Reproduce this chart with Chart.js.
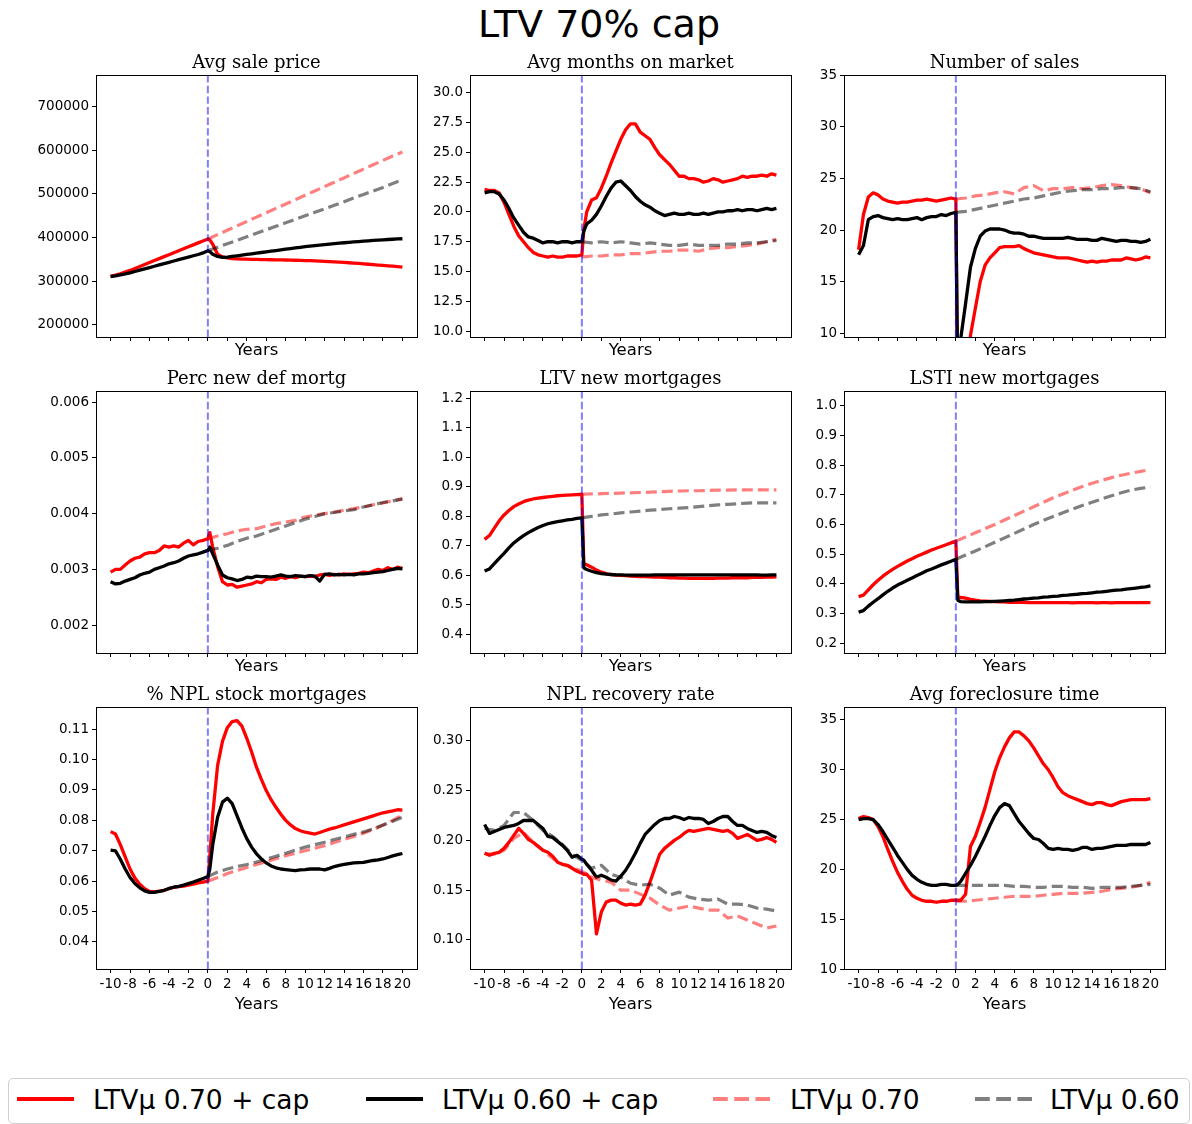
<!DOCTYPE html>
<html>
<head>
<meta charset="utf-8">
<script src="https://cdn.jsdelivr.net/npm/chart.js@4.4.1/dist/chart.umd.min.js"></script>
<style>
html,body{margin:0;padding:0;background:#fff;}
body{width:1192px;height:1124px;position:relative;overflow:hidden;font-family:'DejaVu Sans',sans-serif;}
#title{position:absolute;left:0;top:2px;width:1198px;text-align:center;font-size:38px;line-height:44px;color:#000;}
canvas{position:absolute;}
#legend{position:absolute;left:8px;top:1078px;width:1182px;height:46px;border:1px solid #d0d0d0;border-radius:5px;box-sizing:border-box;}
.lg-line{position:absolute;}
.lg-text{position:absolute;font-size:26.5px;line-height:30px;color:#000;white-space:nowrap;}
</style>
</head>
<body>
<div id="title">LTV 70% cap</div>
<div id="legend"></div>
<svg class="lg-line" style="left:17px;top:1095px" width="58" height="8"><line x1="0" y1="4" x2="57" y2="4" stroke="#ff0000" stroke-width="4"/></svg>
<span class="lg-text" style="left:93px;top:1085px">LTVμ 0.70 + cap</span>
<svg class="lg-line" style="left:366px;top:1095px" width="58" height="8"><line x1="0" y1="4" x2="57" y2="4" stroke="#000000" stroke-width="4"/></svg>
<span class="lg-text" style="left:442px;top:1085px">LTVμ 0.60 + cap</span>
<svg class="lg-line" style="left:713px;top:1095px" width="58" height="8"><line x1="0" y1="4" x2="57" y2="4" stroke="#ff0000" stroke-opacity="0.5" stroke-width="4" stroke-dasharray="14.8 6.4"/></svg>
<span class="lg-text" style="left:790px;top:1085px">LTVμ 0.70</span>
<svg class="lg-line" style="left:975px;top:1095px" width="58" height="8"><line x1="0" y1="4" x2="57" y2="4" stroke="#000000" stroke-opacity="0.5" stroke-width="4" stroke-dasharray="14.8 6.4"/></svg>
<span class="lg-text" style="left:1050px;top:1085px">LTVμ 0.60</span>

<script>
// ---------- x values ----------
const YEARS = [-10,-9.5,-9,-8.5,-8,-7.5,-7,-6.5,-6,-5.5,-5,-4.5,-4,-3.5,-3,-2.5,-2,-1.5,-1,-0.5,0,
  0.2,
  0.5,1,1.5,2,2.5,3,3.5,4,4.5,5,5.5,6,6.5,7,7.5,8,8.5,9,9.5,10,
  10.5,11,11.5,12,12.5,13,13.5,14,14.5,15,15.5,16,16.5,17,17.5,18,18.5,19,19.5,20];
const YEARS_POST = [0,1,2,3,4,5,6,7,8,9,10,11,12,13,14,15,16,17,18,19,20];
const YEARS_FULL = [-10,-9,-8,-7,-6,-5,-4,-3,-2,-1,0,1,2,3,4,5,6,7,8,9,10,11,12,13,14,15,16,17,18,19,20];
const X_TICKS = [-10,-8,-6,-4,-2,0,2,4,6,8,10,12,14,16,18,20];
const X_TICK_LABELS = ['-10','-8','-6','-4','-2','0','2','4','6','8','10','12','14','16','18','20'];
const SERIES_NAMES = ['LTVμ 0.70 + cap','LTVμ 0.60 + cap','LTVμ 0.70','LTVμ 0.60'];
const TITLES = ['Avg sale price','Avg months on market','Number of sales','Perc new def mortg','LTV new mortgages','LSTI new mortgages','% NPL stock mortgages','NPL recovery rate','Avg foreclosure time'];

// ---------- Panel 1: Avg sale price ----------
const P1_RED = [312000,314000,317000,321000,325000,329500,334000,338500,343000,347500,352000,356500,361000,365500,370000,374500,379000,383500,388000,392500,397000,
  395000,
  385000,362000,356000,353500,352000,351500,351000,350700,350400,350100,349800,349600,349400,349200,349000,348800,348600,348300,348000,347600,
  347200,346700,346200,345700,345100,344500,343900,343200,342500,341700,340900,340000,339100,338200,337300,336400,335500,334600,333700,332500];
const P1_BLACK = [311000,312500,314500,317000,319500,322500,325500,328500,331500,334500,337500,340500,343500,346500,349500,352500,355500,358500,361500,365000,370000,
  368000,
  362000,357000,355000,355500,357000,358500,360000,361500,363000,364500,366000,367500,369000,370500,372000,373500,375000,376500,378000,379500,
  380700,381900,383000,384100,385200,386300,387300,388300,389300,390200,391100,392000,392800,393600,394400,395100,395800,396400,397000,397500];
const P1_PINK = [397000,407000,417000,427000,437000,447000,457000,467000,477000,487000,497000,507000,517000,527000,537000,547000,557000,567000,577000,587000,596000];
const P1_GRAY = [370000,378000,386000,394000,402000,410000,418000,426000,434000,442000,450000,458000,466000,474000,482000,491000,499000,507000,515000,524000,533000];
const P1_YTICKS = [200000,300000,400000,500000,600000,700000];
const P1_YLABELS = ['200000','300000','400000','500000','600000','700000'];

// ---------- Panel 2: Avg months on market ----------
const P2_RED = [21.9,21.8,21.8,21.6,20.8,19.8,18.8,18.0,17.5,17.0,16.6,16.4,16.3,16.2,16.3,16.2,16.2,16.3,16.3,16.3,16.4,
  18.5,
  20.0,21.0,21.2,22.0,23.0,24.1,25.1,26.1,26.9,27.4,27.4,26.7,26.4,26.1,25.4,24.8,24.4,24.0,23.5,23.0,
  23.0,22.8,22.8,22.7,22.5,22.6,22.8,22.7,22.5,22.6,22.7,22.8,23.0,22.9,23.0,23.0,23.1,23.0,23.2,23.1];
const P2_BLACK = [21.6,21.7,21.7,21.5,21.0,20.3,19.5,18.9,18.3,17.9,17.8,17.6,17.4,17.5,17.5,17.4,17.5,17.5,17.4,17.5,17.5,
  18.4,
  19.0,19.3,19.8,20.5,21.3,22.0,22.5,22.6,22.2,21.8,21.3,20.9,20.6,20.4,20.1,19.9,19.7,19.8,19.9,19.8,
  19.8,19.9,19.8,19.8,19.9,19.8,19.9,20.0,20.0,20.1,20.1,20.2,20.1,20.2,20.2,20.1,20.2,20.3,20.2,20.3];
const P2_PINK = [16.2,16.3,16.3,16.4,16.4,16.5,16.5,16.6,16.7,16.7,16.8,16.8,16.7,16.9,17.0,17.0,17.1,17.2,17.3,17.5,17.7];
const P2_GRAY = [17.5,17.4,17.5,17.4,17.5,17.4,17.3,17.4,17.3,17.2,17.2,17.3,17.2,17.2,17.2,17.3,17.3,17.4,17.4,17.5,17.6];
const P2_YTICKS = [10,12.5,15,17.5,20,22.5,25,27.5,30];
const P2_YLABELS = ['10.0','12.5','15.0','17.5','20.0','22.5','25.0','27.5','30.0'];

// ---------- Panel 3: Number of sales ----------
const P3_RED = [18.1,21.5,23.2,23.6,23.4,23.0,22.8,22.7,22.6,22.7,22.7,22.8,22.9,22.9,23.0,22.9,22.8,22.9,23.0,23.1,23.0,
  2.0,
  2.5,5.0,9.8,12.4,15.0,16.6,17.3,17.8,18.3,18.4,18.4,18.4,18.5,18.2,18.0,17.8,17.7,17.6,17.5,17.4,
  17.3,17.3,17.3,17.2,17.1,17.0,16.9,17.0,16.9,17.0,17.0,17.1,17.1,17.1,17.3,17.2,17.1,17.2,17.4,17.3];
const P3_BLACK = [17.6,18.5,21.0,21.3,21.4,21.2,21.1,21.0,21.1,21.0,21.0,21.1,21.2,21.0,21.2,21.3,21.3,21.5,21.4,21.6,21.7,
  5.0,
  9.5,12.9,16.4,18.2,19.4,19.9,20.1,20.1,20.1,20.0,19.8,19.7,19.7,19.6,19.4,19.4,19.3,19.2,19.2,19.2,
  19.2,19.2,19.3,19.2,19.1,19.1,19.1,19.0,19.0,19.2,19.1,19.0,18.9,19.0,19.0,18.9,18.9,18.8,18.9,19.1];
const P3_PINK = [23.0,23.1,23.3,23.4,23.6,23.7,23.5,24.1,24.3,23.8,24.0,24.0,24.1,24.0,24.1,24.3,24.4,24.3,24.1,24.0,23.6];
const P3_GRAY = [21.7,21.8,22.0,22.2,22.4,22.6,22.8,23.0,23.1,23.3,23.5,23.7,23.8,23.9,23.9,24.0,24.0,24.1,24.1,24.0,23.7];
const P3_YTICKS = [10,15,20,25,30,35];
const P3_YLABELS = ['10','15','20','25','30','35'];

// ---------- Panel 4: Perc new def mortg ----------
const P4_RED = [0.00295,0.00300,0.00300,0.00308,0.00315,0.00320,0.00322,0.00328,0.00330,0.00330,0.00334,0.00342,0.00340,0.00342,0.00340,0.00347,0.00352,0.00344,0.00350,0.00352,0.00355,
  0.00366,
  0.00340,0.00305,0.00278,0.00272,0.00273,0.00268,0.00270,0.00272,0.00274,0.00278,0.00276,0.00282,0.00283,0.00282,0.00286,0.00284,0.00287,0.00285,0.00288,0.00287,
  0.00288,0.00287,0.00290,0.00291,0.00289,0.00291,0.00290,0.00292,0.00291,0.00292,0.00293,0.00295,0.00294,0.00297,0.00300,0.00298,0.00303,0.00300,0.00304,0.00302];
const P4_BLACK = [0.00278,0.00274,0.00275,0.00279,0.00282,0.00285,0.00290,0.00293,0.00295,0.00300,0.00303,0.00306,0.00310,0.00312,0.00315,0.00320,0.00324,0.00326,0.00328,0.00331,0.00334,
  0.00340,
  0.00328,0.00308,0.00290,0.00285,0.00283,0.00280,0.00282,0.00286,0.00285,0.00288,0.00287,0.00287,0.00286,0.00288,0.00290,0.00288,0.00287,0.00289,0.00288,0.00287,
  0.00289,0.00288,0.00279,0.00291,0.00292,0.00290,0.00291,0.00290,0.00291,0.00290,0.00292,0.00292,0.00293,0.00294,0.00295,0.00296,0.00298,0.00300,0.00302,0.00301];
const P4_PINK = [0.00355,0.00360,0.00364,0.00369,0.00372,0.00373,0.00378,0.00382,0.00385,0.00388,0.00394,0.00397,0.00400,0.00403,0.00406,0.00409,0.00412,0.00416,0.00419,0.00423,0.00427];
const P4_GRAY = [0.00334,0.00338,0.00343,0.00350,0.00356,0.00360,0.00366,0.00372,0.00378,0.00384,0.00390,0.00395,0.00400,0.00402,0.00405,0.00407,0.00412,0.00416,0.00420,0.00423,0.00426];
const P4_YTICKS = [0.002,0.003,0.004,0.005,0.006];
const P4_YLABELS = ['0.002','0.003','0.004','0.005','0.006'];

// ---------- Panel 5: LTV new mortgages ----------
const P5_RED = [0.722,0.735,0.760,0.785,0.805,0.820,0.833,0.842,0.850,0.855,0.859,0.862,0.864,0.866,0.868,0.870,0.871,0.872,0.873,0.874,0.875,
  0.640,
  0.636,0.628,0.618,0.611,0.606,0.603,0.601,0.600,0.599,0.598,0.597,0.596,0.596,0.595,0.594,0.594,0.593,0.592,0.592,0.591,
  0.591,0.590,0.590,0.590,0.590,0.590,0.590,0.591,0.591,0.591,0.592,0.592,0.592,0.592,0.593,0.593,0.593,0.594,0.594,0.595];
const P5_BLACK = [0.615,0.622,0.640,0.658,0.675,0.693,0.710,0.723,0.735,0.745,0.754,0.762,0.769,0.775,0.779,0.782,0.785,0.788,0.790,0.793,0.795,
  0.625,
  0.620,0.614,0.609,0.606,0.604,0.603,0.602,0.602,0.601,0.601,0.601,0.601,0.601,0.601,0.602,0.602,0.602,0.602,0.602,0.602,
  0.602,0.602,0.602,0.602,0.602,0.602,0.602,0.602,0.602,0.602,0.602,0.602,0.602,0.602,0.602,0.602,0.601,0.601,0.602,0.602];
const P5_PINK = [0.875,0.876,0.877,0.878,0.879,0.880,0.881,0.882,0.884,0.885,0.886,0.887,0.887,0.888,0.889,0.889,0.890,0.890,0.890,0.890,0.890];
const P5_GRAY = [0.795,0.800,0.805,0.808,0.812,0.815,0.818,0.821,0.823,0.826,0.828,0.830,0.833,0.836,0.839,0.841,0.843,0.845,0.846,0.846,0.846];
const P5_YTICKS = [0.4,0.5,0.6,0.7,0.8,0.9,1.0,1.1,1.2];
const P5_YLABELS = ['0.4','0.5','0.6','0.7','0.8','0.9','1.0','1.1','1.2'];

// ---------- Panel 6: LSTI new mortgages ----------
const P6_RED = [0.357,0.362,0.380,0.397,0.412,0.426,0.438,0.449,0.459,0.468,0.477,0.485,0.493,0.500,0.507,0.514,0.520,0.526,0.532,0.538,0.544,
  0.355,
  0.354,0.352,0.348,0.345,0.343,0.342,0.341,0.340,0.339,0.339,0.338,0.338,0.338,0.338,0.337,0.337,0.337,0.337,0.337,0.337,
  0.337,0.337,0.337,0.336,0.337,0.337,0.337,0.337,0.336,0.337,0.337,0.336,0.337,0.337,0.337,0.337,0.337,0.337,0.337,0.337];
const P6_BLACK = [0.305,0.310,0.325,0.338,0.350,0.363,0.375,0.386,0.396,0.404,0.412,0.420,0.428,0.436,0.444,0.450,0.457,0.464,0.470,0.476,0.483,
  0.345,
  0.340,0.339,0.339,0.339,0.339,0.340,0.340,0.341,0.342,0.343,0.344,0.345,0.347,0.349,0.350,0.352,0.353,0.355,0.356,0.358,
  0.359,0.361,0.362,0.364,0.365,0.367,0.368,0.370,0.372,0.373,0.375,0.377,0.379,0.380,0.382,0.384,0.386,0.388,0.390,0.393];
const P6_PINK = [0.544,0.558,0.572,0.586,0.600,0.615,0.630,0.645,0.660,0.675,0.690,0.703,0.716,0.728,0.739,0.749,0.758,0.766,0.773,0.779,0.785];
const P6_GRAY = [0.483,0.497,0.511,0.525,0.540,0.555,0.570,0.585,0.600,0.614,0.627,0.640,0.652,0.664,0.675,0.686,0.697,0.707,0.716,0.722,0.726];
const P6_YTICKS = [0.2,0.3,0.4,0.5,0.6,0.7,0.8,0.9,1.0];
const P6_YLABELS = ['0.2','0.3','0.4','0.5','0.6','0.7','0.8','0.9','1.0'];

// ---------- Panel 7: % NPL stock mortgages ----------
const P7_RED = [0.0763,0.0755,0.0720,0.0680,0.0640,0.0610,0.0590,0.0575,0.0566,0.0565,0.0567,0.0570,0.0575,0.0580,0.0582,0.0584,0.0587,0.0590,0.0594,0.0597,0.0600,
  0.0680,
  0.0820,0.0980,0.1060,0.1105,0.1125,0.1128,0.1110,0.1070,0.1025,0.0975,0.0935,0.0898,0.0868,0.0843,0.0820,0.0800,0.0785,0.0773,0.0766,0.0761,
  0.0758,0.0755,0.0760,0.0766,0.0771,0.0775,0.0780,0.0785,0.0790,0.0795,0.0800,0.0805,0.0810,0.0815,0.0820,0.0825,0.0828,0.0831,0.0835,0.0834];
const P7_BLACK = [0.0702,0.0700,0.0672,0.0640,0.0612,0.0592,0.0578,0.0568,0.0563,0.0563,0.0566,0.0570,0.0576,0.0580,0.0583,0.0587,0.0592,0.0597,0.0603,0.0609,0.0615,
  0.0640,
  0.0720,0.0810,0.0860,0.0873,0.0855,0.0815,0.0775,0.0740,0.0712,0.0690,0.0673,0.0660,0.0650,0.0644,0.0640,0.0638,0.0636,0.0635,0.0637,0.0638,
  0.0640,0.0640,0.0640,0.0637,0.0642,0.0648,0.0652,0.0655,0.0658,0.0660,0.0661,0.0662,0.0665,0.0668,0.0670,0.0673,0.0678,0.0683,0.0687,0.0691];
const P7_PINK = [0.0600,0.0612,0.0625,0.0635,0.0645,0.0655,0.0664,0.0674,0.0684,0.0692,0.0700,0.0708,0.0717,0.0727,0.0737,0.0747,0.0758,0.0770,0.0784,0.0800,0.0818];
const P7_GRAY = [0.0615,0.0630,0.0640,0.0648,0.0655,0.0663,0.0672,0.0682,0.0692,0.0702,0.0712,0.0720,0.0728,0.0737,0.0745,0.0754,0.0762,0.0772,0.0785,0.0797,0.0810];
const P7_YTICKS = [0.04,0.05,0.06,0.07,0.08,0.09,0.10,0.11];
const P7_YLABELS = ['0.04','0.05','0.06','0.07','0.08','0.09','0.10','0.11'];

// ---------- Panel 8: NPL recovery rate ----------
const P8_RED = [0.187,0.185,0.187,0.188,0.192,0.198,0.205,0.212,0.207,0.201,0.198,0.194,0.190,0.188,0.184,0.178,0.176,0.175,0.172,0.169,0.167,
  0.166,
  0.166,0.160,0.106,0.128,0.138,0.140,0.140,0.137,0.135,0.136,0.135,0.136,0.145,0.158,0.172,0.186,0.192,0.196,0.200,0.203,
  0.207,0.210,0.209,0.210,0.211,0.212,0.211,0.210,0.209,0.210,0.207,0.202,0.204,0.206,0.203,0.200,0.201,0.203,0.201,0.198];
const P8_BLACK = [0.216,0.207,0.209,0.211,0.213,0.214,0.215,0.217,0.220,0.220,0.220,0.216,0.212,0.204,0.203,0.199,0.195,0.190,0.183,0.185,0.181,
  0.180,
  0.176,0.170,0.163,0.165,0.163,0.160,0.159,0.164,0.170,0.178,0.187,0.197,0.206,0.211,0.216,0.220,0.222,0.222,0.224,0.223,
  0.221,0.223,0.222,0.222,0.221,0.217,0.219,0.222,0.224,0.224,0.219,0.215,0.215,0.212,0.210,0.208,0.209,0.208,0.205,0.203];
const P8_PINK = [0.187,0.186,0.190,0.202,0.208,0.198,0.190,0.182,0.176,0.173,0.169,0.163,0.160,0.158,0.150,0.150,0.146,0.142,0.135,0.130,0.132,0.134,0.132,0.130,0.130,0.122,0.124,0.120,0.116,0.112,0.114];
const P8_GRAY = [0.212,0.210,0.215,0.228,0.228,0.220,0.210,0.204,0.196,0.186,0.180,0.172,0.175,0.166,0.163,0.157,0.155,0.156,0.152,0.145,0.148,0.143,0.141,0.140,0.141,0.136,0.136,0.135,0.132,0.131,0.129];
const P8_YTICKS = [0.10,0.15,0.20,0.25,0.30];
const P8_YLABELS = ['0.10','0.15','0.20','0.25','0.30'];

// ---------- Panel 9: Avg foreclosure time ----------
const P9_RED = [25.1,25.3,25.2,25.0,24.3,23.3,22.0,20.8,19.7,18.8,18.0,17.4,17.1,16.9,16.8,16.8,16.7,16.8,16.8,16.9,16.9,
  16.9,
  16.9,17.5,22.3,23.3,24.7,26.2,28.0,29.8,31.2,32.3,33.2,33.8,33.8,33.4,32.9,32.2,31.4,30.6,30.0,29.2,
  28.3,27.7,27.4,27.2,27.0,26.8,26.6,26.5,26.7,26.7,26.5,26.4,26.6,26.8,26.9,27.0,27.0,27.0,27.0,27.1];
const P9_BLACK = [25.0,25.1,25.1,25.0,24.5,23.8,23.0,22.2,21.4,20.7,20.0,19.4,19.0,18.7,18.5,18.4,18.4,18.5,18.5,18.4,18.4,
  18.5,
  18.8,19.6,20.4,21.3,22.3,23.3,24.4,25.4,26.2,26.6,26.4,25.6,24.8,24.2,23.6,23.1,23.0,22.6,22.1,22.0,
  22.1,22.0,22.0,21.9,22.0,22.2,22.2,22.0,22.1,22.1,22.2,22.3,22.4,22.4,22.4,22.5,22.5,22.5,22.5,22.7];
const P9_PINK = [16.8,16.8,16.9,17.0,17.1,17.2,17.3,17.3,17.3,17.4,17.5,17.6,17.6,17.6,17.7,17.8,18.0,18.1,18.2,18.4,18.7];
const P9_GRAY = [18.4,18.4,18.4,18.4,18.4,18.4,18.3,18.3,18.2,18.2,18.3,18.3,18.2,18.2,18.1,18.2,18.2,18.2,18.3,18.4,18.5];
const P9_YTICKS = [10,15,20,25,30,35];
const P9_YLABELS = ['10','15','20','25','30','35'];

// ---------- panel table (built from the arrays above) ----------
const PANELS = [
  {red:P1_RED, black:P1_BLACK, pink:P1_PINK, gray:P1_GRAY, dashX:YEARS_POST, yMin:172500, yMax:772500, yTicks:P1_YTICKS, yLabels:P1_YLABELS},
  {red:P2_RED, black:P2_BLACK, pink:P2_PINK, gray:P2_GRAY, dashX:YEARS_POST, yMin:9.5, yMax:31.5, yTicks:P2_YTICKS, yLabels:P2_YLABELS},
  {red:P3_RED, black:P3_BLACK, pink:P3_PINK, gray:P3_GRAY, dashX:YEARS_POST, yMin:9.65, yMax:35, yTicks:P3_YTICKS, yLabels:P3_YLABELS},
  {red:P4_RED, black:P4_BLACK, pink:P4_PINK, gray:P4_GRAY, dashX:YEARS_POST, yMin:0.0015, yMax:0.0062, yTicks:P4_YTICKS, yLabels:P4_YLABELS},
  {red:P5_RED, black:P5_BLACK, pink:P5_PINK, gray:P5_GRAY, dashX:YEARS_POST, yMin:0.337, yMax:1.225, yTicks:P5_YTICKS, yLabels:P5_YLABELS},
  {red:P6_RED, black:P6_BLACK, pink:P6_PINK, gray:P6_GRAY, dashX:YEARS_POST, yMin:0.167, yMax:1.05, yTicks:P6_YTICKS, yLabels:P6_YLABELS},
  {red:P7_RED, black:P7_BLACK, pink:P7_PINK, gray:P7_GRAY, dashX:YEARS_POST, yMin:0.0311, yMax:0.1173, yTicks:P7_YTICKS, yLabels:P7_YLABELS},
  {red:P8_RED, black:P8_BLACK, pink:P8_PINK, gray:P8_GRAY, dashX:YEARS_FULL, yMin:0.0708, yMax:0.334, yTicks:P8_YTICKS, yLabels:P8_YLABELS},
  {red:P9_RED, black:P9_BLACK, pink:P9_PINK, gray:P9_GRAY, dashX:YEARS_POST, yMin:10, yMax:36.3, yTicks:P9_YTICKS, yLabels:P9_YLABELS}
];

// ---------- layout ----------
const COLS = [96, 470, 844];
const ROWS = [75, 391, 707];
const PLOT_W = 321, PLOT_H = 262, YAXIS_W = 62, TITLE_H = 40;

const framePlugin = {
  id: 'frame',
  afterDraw(chart) {
    const a = chart.chartArea, ctx = chart.ctx;
    ctx.save();
    ctx.strokeStyle = '#000';
    ctx.lineWidth = 1;
    ctx.strokeRect(Math.round(a.left) + 0.5, Math.round(a.top) + 0.5, Math.round(a.right - a.left), Math.round(a.bottom - a.top));
    ctx.restore();
  }
};

const pts = (xs, ys) => xs.map((x, i) => ({x: x, y: ys[i]}));

PANELS.forEach((p, i) => {
  const col = i % 3, row = Math.floor(i / 3);
  const bottomRow = row === 2;
  const axisH = bottomRow ? 51 : 30;
  const W = YAXIS_W + PLOT_W + 2, H = TITLE_H + PLOT_H + axisH;
  const cv = document.createElement('canvas');
  cv.width = W; cv.height = H;
  cv.style.left = (COLS[col] - YAXIS_W) + 'px';
  cv.style.top = (ROWS[row] - TITLE_H) + 'px';
  cv.style.width = W + 'px'; cv.style.height = H + 'px';
  document.body.appendChild(cv);

  const tickFont = {family: 'DejaVu Sans', size: 13.5};
  const gridOpts = {display: true, drawOnChartArea: false, drawTicks: true, tickLength: 4, tickColor: '#000', tickWidth: 1, color: '#000'};

  new Chart(cv, {
    type: 'line',
    data: {
      datasets: [
        {label: 'x=0', data: [{x: 0, y: p.yMin}, {x: 0, y: p.yMax}], borderColor: 'rgba(0,0,255,0.5)', borderWidth: 2, borderDash: [7.4, 3.2], order: 0},
        {label: SERIES_NAMES[3], data: pts(p.dashX, p.gray), borderColor: 'rgba(0,0,0,0.5)', borderWidth: 3.2, borderDash: [11, 5], order: 1},
        {label: SERIES_NAMES[2], data: pts(p.dashX, p.pink), borderColor: 'rgba(255,0,0,0.5)', borderWidth: 3.2, borderDash: [11, 5], order: 2},
        {label: SERIES_NAMES[1], data: pts(YEARS, p.black), borderColor: '#000000', borderWidth: 3.3, order: 3},
        {label: SERIES_NAMES[0], data: pts(YEARS, p.red), borderColor: '#ff0000', borderWidth: 3.3, order: 4}
      ]
    },
    options: {
      responsive: false,
      animation: false,
      devicePixelRatio: 1,
      events: [],
      layout: {padding: {left: 0, right: 2, top: 0, bottom: 0}},
      elements: {
        point: {radius: 0},
        line: {tension: 0, fill: false, borderJoinStyle: 'round', borderCapStyle: 'butt'}
      },
      datasets: {line: {clip: 0}},
      plugins: {
        legend: {display: false},
        tooltip: {enabled: false},
        title: {
          display: true, fullSize: false, text: TITLES[i], color: '#000',
          font: {family: 'DejaVu Serif', size: 18, weight: 'normal'},
          padding: {top: 17.4, bottom: 1}
        }
      },
      scales: {
        x: {
          type: 'linear', min: -11.5, max: 21.5,
          afterFit: s => { s.height = axisH; },
          afterBuildTicks: s => { s.ticks = X_TICKS.map(v => ({value: v})); },
          ticks: {
            autoSkip: false, maxRotation: 0, minRotation: 0, padding: 3, color: '#000', font: tickFont,
            callback: (v, idx) => bottomRow ? X_TICK_LABELS[idx] : ''
          },
          grid: gridOpts,
          border: {display: false},
          title: {display: true, text: 'Years', color: '#000', font: {family: 'DejaVu Sans', size: 16.5}, padding: {top: 0, bottom: bottomRow ? 5.5 : 6.8}}
        },
        y: {
          type: 'linear', min: p.yMin, max: p.yMax,
          afterFit: s => { s.width = YAXIS_W; },
          afterBuildTicks: s => { s.ticks = p.yTicks.map(v => ({value: v})); },
          ticks: {padding: 3, color: '#000', font: tickFont, callback: (v, idx) => p.yLabels[idx]},
          grid: gridOpts,
          border: {display: false}
        }
      }
    },
    plugins: [framePlugin]
  });
});
</script>
</body>
</html>
